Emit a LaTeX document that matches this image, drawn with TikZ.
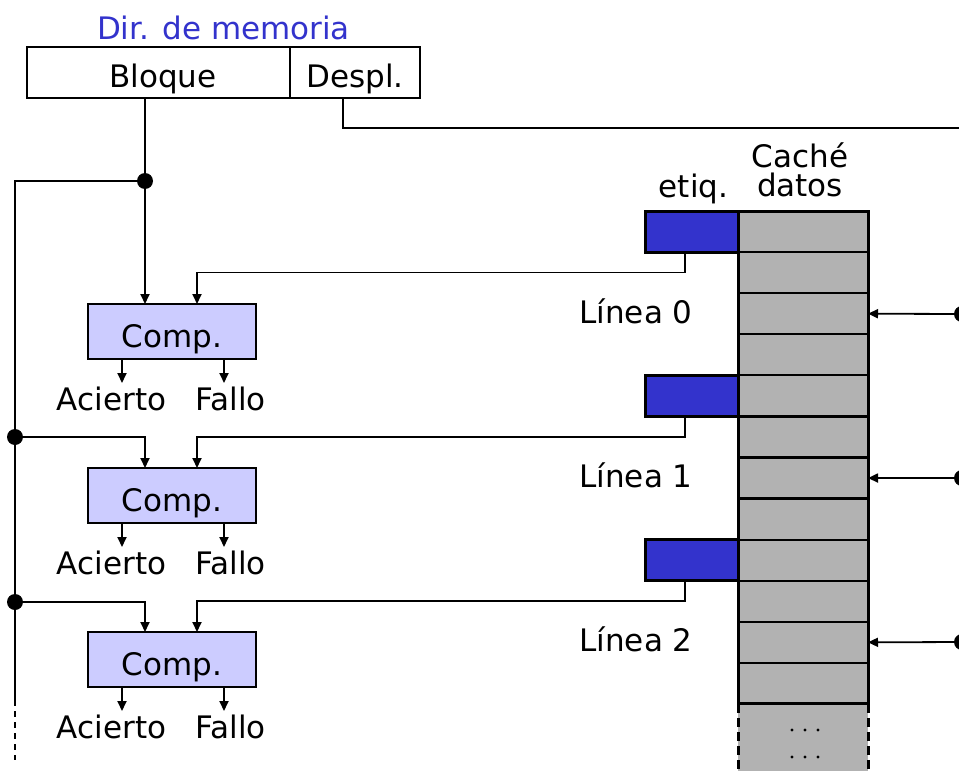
\documentclass[tikz,border=0pt]{standalone}
\usepackage{fontspec}
\setmainfont{DejaVu Sans}
\usetikzlibrary{arrows.meta,calc}
\definecolor{addrblue}{RGB}{51,51,204}
\definecolor{tagblue}{RGB}{51,51,204}
\definecolor{cmpfill}{RGB}{204,204,255}
\definecolor{datagray}{RGB}{178,178,178}
\begin{document}
\begin{tikzpicture}[x=1pt,y=-1pt,
  lbl/.style={font=\fontsize{31}{29}\selectfont, inner sep=0pt},
  wire/.style={line width=1.8pt},
  arr/.style={wire,-{Triangle[length=10pt,width=9pt]}},
  field/.style={draw,line width=2.8pt,minimum height=51pt,inner sep=0pt,outer sep=0pt},
  cmpbox/.style={draw,line width=2.5pt,fill=cmpfill,minimum width=168pt,minimum height=55pt,inner sep=0pt,outer sep=0pt},
  row/.style={draw,line width=2.2pt,fill=datagray,minimum width=130pt,minimum height=41.08pt,inner sep=0pt,outer sep=0pt},
  tagbox/.style={draw,line width=3pt,fill=tagblue,minimum width=93pt,minimum height=41.08pt,inner sep=0pt,outer sep=0pt},
  junction/.style={circle,fill,inner sep=0pt,minimum size=16pt}
]
\useasboundingbox (0,0) rectangle (959,771);

% memory address: block and offset fields
\node[lbl,anchor=base,text=addrblue] (title) at (223.5,39) {Dir. de memoria};
\node[field,minimum width=263pt] (blk) at (158.5,72.5) {};
\node[field,minimum width=130pt] (dsp) at (355,72.5) {};
\node[lbl,anchor=base] (blkT) at (163,87) {Bloque};
\node[lbl,anchor=base] (dspT) at (355,87) {Despl.};

% offset wire running to the right
\draw[wire] (dsp.south -| 343,0) -- ++(0,30) -- (959,128);

% data array: continuation below the last drawn row
\fill[datagray] (738,704) rectangle (868,771);
\draw[line width=3pt,dash pattern=on 9pt off 5pt] (738,704) -- (738,771);
\draw[line width=3pt,dash pattern=on 9pt off 5pt] (868,704) -- (868,771);
\foreach \yy in {730,757}
  \foreach \xx in {792,805,818}
    \fill (\xx,\yy) circle (1.6pt);

% data array rows
\foreach \i in {0,...,11}
  \node[row,anchor=north west] (r\i) at (738,{211+41.08*\i}) {};
\draw[line width=3pt] (r11.south west) -- (r0.north west) -- (r0.north east) -- (r11.south east);
\draw[line width=3pt] (r11.south west) -- (r11.south east);

% tag cells, one per line
\node[tagbox,anchor=north east] (t0) at (r0.north west) {};
\node[tagbox,anchor=north east] (t1) at (r4.north west) {};
\node[tagbox,anchor=north east] (t2) at (r8.north west) {};

\node[lbl,anchor=base] (etq) at (693.5,197) {etiq.};
\node[lbl,align=center] (cch) at (800,170) {Caché\\datos};

\node[lbl,anchor=base] (l0) at (636,323) {Línea 0};
\node[lbl,anchor=base] (l1) at (636,487) {Línea 1};
\node[lbl,anchor=base] (l2) at (636,651) {Línea 2};

% word selection arrows from the right
\foreach \k/\r in {0/r2,1/r6,2/r10}{
  \node[junction] (p\k) at (962,{314+164*\k}) {};
  \draw[arr] (p\k.center) -- (\r.east);
}

% comparators
\node[cmpbox] (c0) at (172,331.5) {};
\node[cmpbox] (c1) at (172,495.5) {};
\node[cmpbox] (c2) at (172,659.5) {};
\foreach \k/\yb in {0/347,1/511,2/675}
  \node[lbl,anchor=base] (cT\k) at (172,\yb) {Comp.};

% block bus
\coordinate (j0) at (145,181);
\node[junction] (d0) at (j0) {};
\node[junction] (j1) at (15,437) {};
\node[junction] (j2) at (15,602) {};
\draw[arr] (blk.south -| j0) -- (c0.north -| j0);
\draw[wire] (j0) -- (15,181) -- (15,700);
\draw[wire,dash pattern=on 6pt off 5pt] (15,700) -- (15,760);
\draw[arr] (j1.center) -| ($(c1.north west)+(57,0)$);
\draw[arr] (j2.center) -| ($(c2.north west)+(57,0)$);

% tag wires into the comparators
\foreach \k in {0,1,2}
  \draw[arr] (t\k.south -| 685,0) -- ++(0,20.5) -| ($(c\k.north west)+(109,0)$);

% comparator outputs
\foreach \k/\yb in {0/410,1/574,2/738}{
  \draw[arr] ($(c\k.south west)+(34,0)$) -- ++(0,24);
  \draw[arr] ($(c\k.south west)+(136,0)$) -- ++(0,24);
  \node[lbl,anchor=base] (hit\k) at (111.5,\yb) {Acierto};
  \node[lbl,anchor=base] (miss\k) at (230.5,\yb) {Fallo};
}
\end{tikzpicture}
\end{document}
